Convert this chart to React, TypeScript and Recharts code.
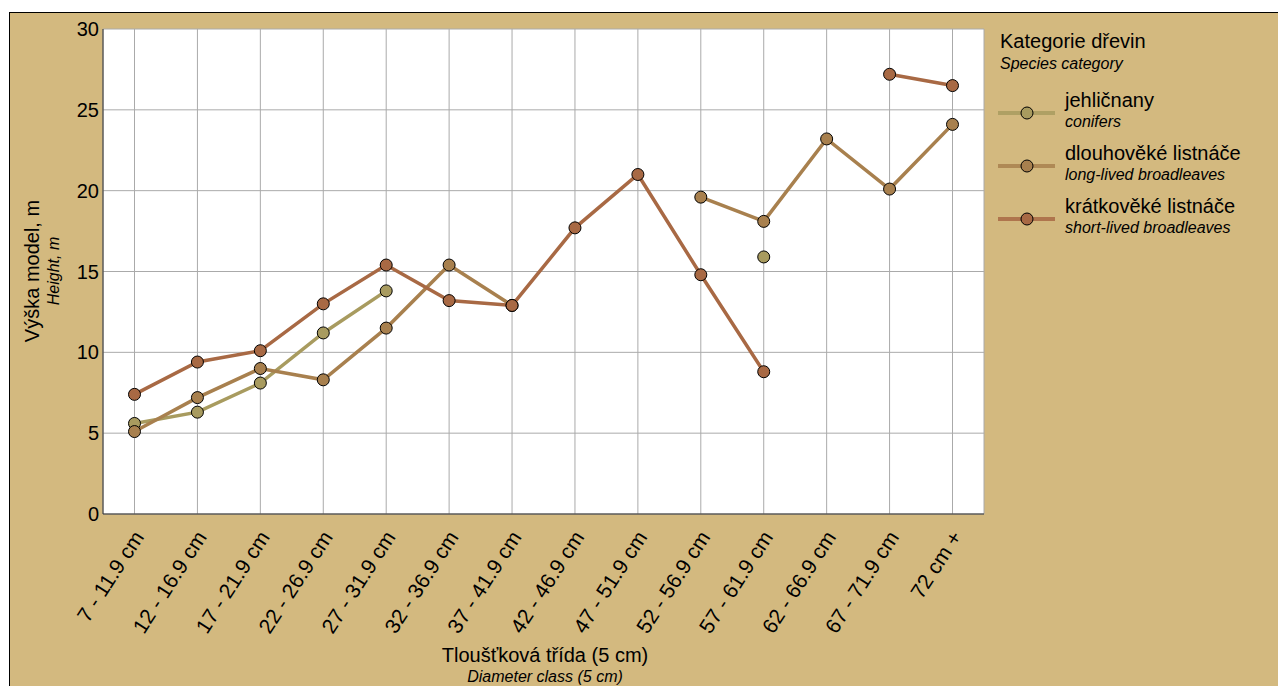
import { CartesianGrid, Line, LineChart, XAxis, YAxis } from "recharts";

const categories = [
  "7 - 11.9 cm",
  "12 - 16.9 cm",
  "17 - 21.9 cm",
  "22 - 26.9 cm",
  "27 - 31.9 cm",
  "32 - 36.9 cm",
  "37 - 41.9 cm",
  "42 - 46.9 cm",
  "47 - 51.9 cm",
  "52 - 56.9 cm",
  "57 - 61.9 cm",
  "62 - 66.9 cm",
  "67 - 71.9 cm",
  "72 cm +",
];

const conifers = [5.6, 6.3, 8.1, 11.2, 13.8, null, null, null, null, null, 15.9, null, null, null];
const longLived = [5.1, 7.2, 9.0, 8.3, 11.5, 15.4, 12.9, null, null, 19.6, 18.1, 23.2, 20.1, 24.1];
const shortLived = [7.4, 9.4, 10.1, 13.0, 15.4, 13.2, 12.9, 17.7, 21.0, 14.8, 8.8, null, 27.2, 26.5];

const yTicks = [0, 5, 10, 15, 20, 25, 30];

const series = [
  { key: "conifers", name: "jehličnany", sub: "conifers", color: "#a89b5f" },
  { key: "longLived", name: "dlouhověké listnáče", sub: "long-lived broadleaves", color: "#a8804e" },
  { key: "shortLived", name: "krátkověké listnáče", sub: "short-lived broadleaves", color: "#a86944" },
];

const data = categories.map((c, i) => ({
  cls: c,
  conifers: conifers[i],
  longLived: longLived[i],
  shortLived: shortLived[i],
}));

const FONT = "'Liberation Sans', Arial, sans-serif";
const TAN = "#d3b97f";
const W = 1268;
const H = 673;
const HALF_BAND = 31.5;

const XTick = (props: any) => {
  const { x, y, payload } = props;
  const px = x + 4;
  const py = y + 19;
  return (
    <text
      x={px}
      y={py}
      dy="0.35em"
      textAnchor="end"
      transform={`rotate(-57, ${px}, ${py})`}
      fontSize={21}
      fontFamily={FONT}
      fill="#000"
    >
      {payload.value}
    </text>
  );
};

// titles and legend, drawn over the chart in the same coordinates
const Overlay = () => (
  <svg
    width={W}
    height={H}
    style={{ position: "absolute", left: 0, top: 0, pointerEvents: "none" }}
    fontFamily={FONT}
  >
    <text x={535} y={649} textAnchor="middle" fontSize={20}>
      Tloušťková třída (5 cm)
    </text>
    <text x={535} y={669} textAnchor="middle" fontSize={16} fontStyle="italic">
      Diameter class (5 cm)
    </text>
    <text x={29} y={258} textAnchor="middle" fontSize={20} transform="rotate(-90, 29, 258)">
      Výška model, m
    </text>
    <text x={49} y={258} textAnchor="middle" fontSize={16} fontStyle="italic" transform="rotate(-90, 49, 258)">
      Height, m
    </text>

    <text x={990} y={35} fontSize={20}>
      Kategorie dřevin
    </text>
    <text x={990} y={56} fontSize={16} fontStyle="italic">
      Species category
    </text>
    {series.map((s, i) => {
      const ly = 100 + i * 53;
      return (
        <g key={s.key}>
          <line x1={988} x2={1045} y1={ly} y2={ly} stroke={s.color} strokeWidth={4} strokeOpacity={0.85} />
          <circle cx={1017} cy={ly} r={6} fill={s.color} stroke="#000" strokeWidth={1} />
          <text x={1055} y={ly - 6} fontSize={20}>
            {s.name}
          </text>
          <text x={1055} y={ly + 14} fontSize={16} fontStyle="italic">
            {s.sub}
          </text>
        </g>
      );
    })}
  </svg>
);

export default function App() {
  return (
    <div
      style={{
        position: "absolute",
        left: 9,
        top: 12,
        width: 1269,
        height: 674,
        boxSizing: "border-box",
        borderTop: "1px solid #000",
        borderLeft: "1px solid #000",
        background: TAN,
      }}
    >
      <div style={{ position: "absolute", left: 0, top: 0 }}>
        <LineChart
          width={W}
          height={H}
          data={data}
          margin={{ top: 16, right: 294, left: 33, bottom: 22 }}
        >
          <CartesianGrid stroke="#aaaaaa" fill="#ffffff" fillOpacity={1} />
          <XAxis
            dataKey="cls"
            type="category"
            interval={0}
            height={150}
            padding={{ left: HALF_BAND, right: HALF_BAND }}
            tickLine={false}
            tickSize={0}
            tickMargin={0}
            axisLine={{ stroke: "#333" }}
            tick={<XTick />}
          />
          <XAxis
            xAxisId="top"
            dataKey="cls"
            orientation="top"
            height={0}
            padding={{ left: HALF_BAND, right: HALF_BAND }}
            tick={false}
            tickLine={false}
            axisLine={{ stroke: "#333" }}
          />
          <YAxis
            type="number"
            domain={[0, 30]}
            ticks={yTicks}
            width={60}
            tickLine={false}
            tickSize={0}
            tickMargin={4}
            axisLine={{ stroke: "#333" }}
            tick={{ fontSize: 20, fill: "#000", fontFamily: FONT }}
          />
          <YAxis
            yAxisId="right"
            orientation="right"
            domain={[0, 30]}
            width={0}
            tick={false}
            tickLine={false}
            axisLine={{ stroke: "#333" }}
          />
          {series.map((s) => (
            <Line
              key={s.key}
              dataKey={s.key}
              name={s.name}
              stroke={s.color}
              strokeWidth={3.5}
              dot={{ r: 6, fill: s.color, stroke: "#000", strokeWidth: 1 }}
              activeDot={false}
              isAnimationActive={false}
            />
          ))}
        </LineChart>
      </div>
      <Overlay />
    </div>
  );
}
